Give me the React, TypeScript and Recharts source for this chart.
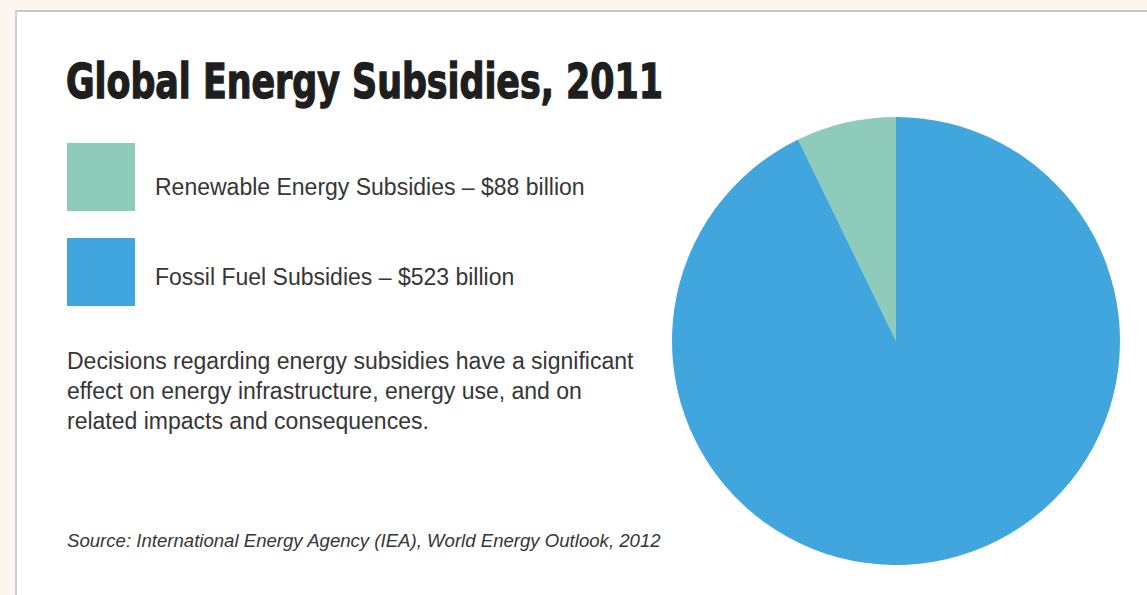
import React from 'react';
import { PieChart, Pie, Cell } from 'recharts';

// legend labels (amounts as printed)
const legendLabels = ['Renewable Energy Subsidies – $88 billion', 'Fossil Fuel Subsidies – $523 billion'];
// slice shares as drawn in the graphic (percent)
const sliceNames = ['Renewable', 'Fossil Fuel'];
const sliceShares = [7.2, 92.8];
const sliceColors = ['#8ecbbb', '#41a6dd'];

const bodyLines = [
  'Decisions regarding energy subsidies have a significant',
  'effect on energy infrastructure, energy use, and on',
  'related impacts and consequences.',
];

const data = sliceNames.map((name, i) => ({ name, value: sliceShares[i] }));

const textFont = '"Liberation Sans", Arial, Helvetica, sans-serif';

export default function App() {
  return (
    <div style={{ position: 'fixed', left: 0, top: 0, width: 1147, height: 595, background: '#fcf6ee', overflow: 'hidden' }}>
      <div
        style={{
          position: 'absolute',
          left: 15,
          top: 10,
          width: 1200,
          height: 700,
          background: '#ffffff',
          borderLeft: '2px solid #cfcfcf',
          borderTop: '2px solid #c8c8c8',
        }}
      />
      <svg style={{ position: 'absolute', left: 60, top: 40 }} width={800} height={90}>
        <text
          x={6}
          y={58}
          textLength={597}
          lengthAdjust="spacingAndGlyphs"
          fontFamily='"DejaVu Sans Condensed", "Liberation Sans Narrow", "DejaVu Sans", sans-serif'
          fontWeight="bold"
          fontSize={48}
          fill="#1e1e1e"
          stroke="#1e1e1e"
          strokeWidth={1.3}
        >
          Global Energy Subsidies, 2011
        </text>
      </svg>

      {legendLabels.map((label, i) => (
        <React.Fragment key={label}>
          <div style={{ position: 'absolute', left: 67, top: 143 + i * 95, width: 68, height: 68, background: sliceColors[i] }} />
          <div
            style={{
              position: 'absolute',
              left: 155,
              top: 172 + i * 90,
              fontFamily: textFont,
              fontSize: 23,
              lineHeight: '30px',
              color: '#363636',
              whiteSpace: 'nowrap',
            }}
          >
            {label}
          </div>
        </React.Fragment>
      ))}

      <div style={{ position: 'absolute', left: 67, top: 347, fontFamily: textFont, fontSize: 23, lineHeight: '29.8px', color: '#363636', whiteSpace: 'nowrap' }}>
        {bodyLines.map((l) => (
          <div key={l}>{l}</div>
        ))}
      </div>

      <div
        style={{
          position: 'absolute',
          left: 67,
          top: 529,
          fontFamily: textFont,
          fontStyle: 'italic',
          fontSize: 18.6,
          lineHeight: '24px',
          color: '#363636',
          whiteSpace: 'nowrap',
        }}
      >
        Source: International Energy Agency (IEA), World Energy Outlook, 2012
      </div>

      <div style={{ position: 'absolute', left: 666, top: 111 }}>
        <PieChart width={460} height={460} margin={{ top: 0, right: 0, bottom: 0, left: 0 }}>
          <Pie
            data={data}
            dataKey="value"
            nameKey="name"
            cx={230}
            cy={230}
            innerRadius={0}
            outerRadius={224}
            startAngle={90}
            endAngle={450}
            stroke="none"
            isAnimationActive={false}
          >
            {data.map((d, i) => (
              <Cell key={d.name} fill={sliceColors[i]} />
            ))}
          </Pie>
        </PieChart>
      </div>
    </div>
  );
}
